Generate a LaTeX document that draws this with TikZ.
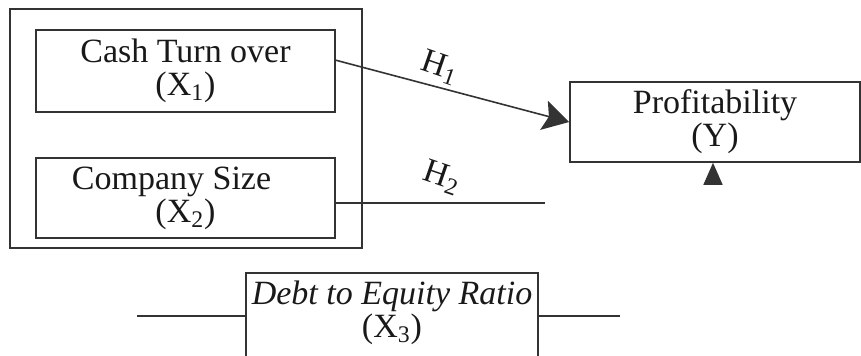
\documentclass[tikz,border=0pt]{standalone}
\usepackage{fontspec}
\setmainfont{Liberation Serif}
\usetikzlibrary{arrows.meta}
\begin{document}
\begin{tikzpicture}[x=0.5pt, y=-0.5pt, line width=0.8pt, draw=black!80,
    font=\fontsize{17pt}{16.5pt}\selectfont,
    box/.style={draw, rectangle, inner sep=0pt, align=center, text=black!90},
    hyp/.style={text=black!90, rotate=-19, inner sep=1pt},
    >={Stealth[length=13pt, width=15pt, inset=2.5pt]}]
            \useasboundingbox (0,0) rectangle (861,356);
            \clip (0,0) rectangle (861,356);

            % Independent variables group
            \draw (10,9) rectangle (362,248);
            \node[box, minimum width=149.5pt, minimum height=41pt] (X1) at (185.5,71) {Cash Turn over\\(X\textsubscript{1})};
            \node[box, minimum width=149.5pt, minimum height=40pt] (X2) at (185.5,198) {Company Size\hspace*{14pt}\\(X\textsubscript{2})};

            % Dependent variable
            \node[box, minimum width=145pt, minimum height=40pt] (Y) at (715,122) {Profitability\\(Y)};

            % Moderating variable
            \node[box, minimum width=146pt, minimum height=45pt] (X3) at (392,318) {};
            \node[text=black!90, align=center, inner sep=0pt] (X3t) at (392,313) {\textit{Debt to Equity Ratio}\\(X\textsubscript{3})};

            % Free ends
            \coordinate (h1s) at (335,60);
            \coordinate (h2e) at (545,203);
            \coordinate (dl) at (137,316);
            \coordinate (dr) at (620,316);
            \coordinate (tb) at (713,185);

            % H1
            \draw[->] (h1s) -- (Y.west);
            \node[hyp] (H1) at (440,68) {H\textsubscript{1}};

            % H2
            \draw (X2.east |- h2e) -- (h2e);
            \node[hyp] (H2) at (442,178) {H\textsubscript{2}};

            % Lines of X3
            \draw (X3.west |- dl) -- (dl);
            \draw (X3.east |- dr) -- (dr);

            % Tip under Y
            \draw[-{Triangle[length=11pt, width=9.5pt]}] (tb) -- (Y.south -| tb);

        \end{tikzpicture}
\end{document}
